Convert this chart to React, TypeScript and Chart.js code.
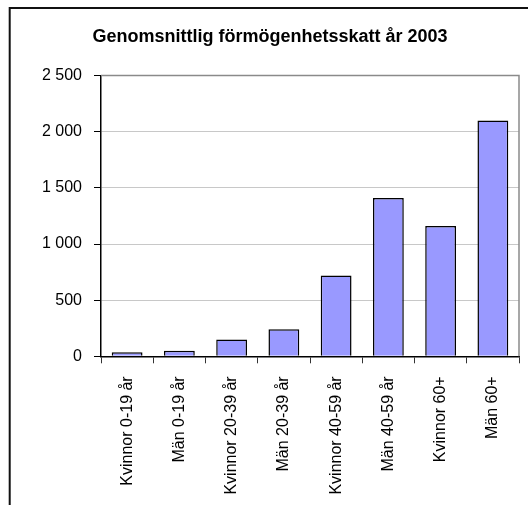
import React, { useEffect, useRef } from "react";
import { Chart, registerables } from "chart.js";

Chart.register(...registerables);

const titleText = "Genomsnittlig förmögenhetsskatt år 2003";
const categories = [
  "Kvinnor 0-19 år",
  "Män 0-19 år",
  "Kvinnor 20-39 år",
  "Män 20-39 år",
  "Kvinnor 40-59 år",
  "Män 40-59 år",
  "Kvinnor 60+",
  "Män 60+",
];
const values = [35, 50, 150, 240, 720, 1410, 1160, 2100];
const yMin = 0;
const yMax = 2500;
const yStep = 500;

const FONT = "'Liberation Sans', Arial, sans-serif";

const fmt = (v: number) =>
  String(v).replace(/\B(?=(\d{3})+(?!\d))/g, " ");

const framePlugin = {
  id: "frame",
  afterDraw(chart: any) {
    const { ctx, chartArea } = chart;
    ctx.save();
    ctx.strokeStyle = "#8a8a8a";
    ctx.lineWidth = 1.5;
    ctx.beginPath();
    ctx.moveTo(chartArea.left, chartArea.top);
    ctx.lineTo(chartArea.right, chartArea.top);
    ctx.lineTo(chartArea.right, chartArea.bottom);
    ctx.stroke();
    ctx.strokeStyle = "#111";
    ctx.lineWidth = 2;
    ctx.strokeRect(9.7, 8, 700, 700);
    ctx.restore();
  },
};

export default function App() {
  const ref = useRef<HTMLCanvasElement | null>(null);

  useEffect(() => {
    if (!ref.current) return;
    const chart = new Chart(ref.current, {
      type: "bar",
      data: {
        labels: categories,
        datasets: [
          {
            data: values,
            backgroundColor: "#9999ff",
            borderColor: "#000",
            borderWidth: 1.5,
            barPercentage: 0.59,
            categoryPercentage: 1,
          },
        ],
      },
      options: {
        animation: false,
        responsive: false,
        devicePixelRatio: 1,
        layout: { padding: { left: 21, right: 9, top: 0, bottom: 0 } },
        plugins: {
          legend: { display: false },
          tooltip: { enabled: false },
          title: {
            display: true,
            text: titleText,
            color: "#000",
            font: { family: FONT, size: 18, weight: "bold" },
            padding: { top: 26, bottom: 28 },
          },
        },
        scales: {
          x: {
            grid: {
              offset: true,
              drawOnChartArea: false,
              drawTicks: true,
              tickLength: 7,
              tickColor: "#333",
              lineWidth: 1,
            },
            border: { color: "#000", width: 1.5 },
            ticks: {
              autoSkip: false,
              maxRotation: 90,
              minRotation: 90,
              padding: 13,
              color: "#000",
              font: { family: FONT, size: 16 },
            },
            afterFit: (s: any) => {
              s.height = 148.7;
            },
          },
          y: {
            min: yMin,
            max: yMax,
            grid: {
              color: "#c8c8c8",
              tickColor: "#000",
              tickLength: 7,
              lineWidth: 1,
            },
            border: { color: "#000", width: 1.5 },
            ticks: {
              stepSize: yStep,
              padding: 12,
              color: "#000",
              font: { family: FONT, size: 16 },
              callback: (v: any) => fmt(Number(v)),
            },
            afterFit: (s: any) => {
              s.width = 80;
            },
          },
        },
      },
      plugins: [framePlugin],
    });
    return () => chart.destroy();
  }, []);

  return (
    <div style={{ position: "absolute", left: 0, top: 0, width: 528, height: 505, background: "#fff" }}>
      <canvas ref={ref} width={528} height={505} style={{ display: "block" }} />
    </div>
  );
}
